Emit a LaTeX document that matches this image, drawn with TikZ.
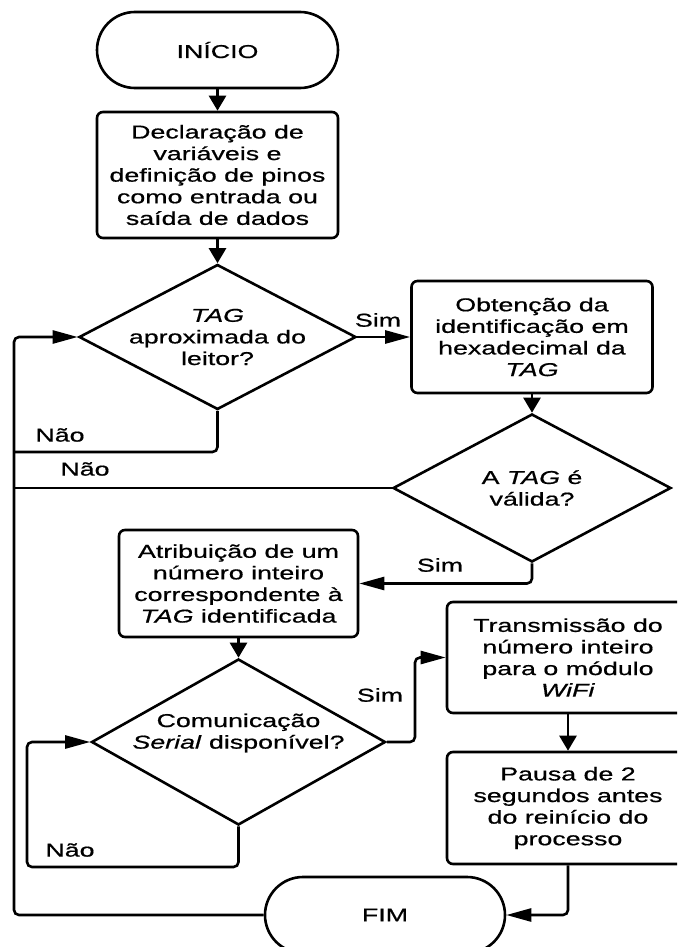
\documentclass[tikz,border=0pt]{standalone}
\usepackage{fontspec}
\setmainfont{Liberation Sans}[FakeStretch=1.44, FakeBold=0.7]
\usetikzlibrary{arrows.meta,shapes.geometric}

\begin{document}
\begin{tikzpicture}[x=1pt, y=-1pt,
  every node/.style={font=\fontsize{18.6}{21.6}\selectfont},
  every label/.style={align=center, inner sep=0pt},
  terminal/.style={draw, line width=2.6pt, rounded corners=38pt,
    minimum width=241pt, minimum height=76pt, inner sep=0pt},
  process/.style={draw, line width=2.6pt, rounded corners=6pt,
    minimum width=241pt, align=center, inner sep=0pt},
  decision/.style={draw, shape=diamond, line width=2.6pt, inner sep=0pt},
  flow/.style={line width=2.6pt, rounded corners=5pt},
  vtip/.style={-{Triangle[length=15pt,width=17pt]}},
  htip/.style={-{Triangle[length=25pt,width=13pt]}},
  answer/.style={inner sep=0pt}
]
\useasboundingbox (0,0) rectangle (677,947);
\clip (0,0) rectangle (677,947);

% Blocks
\node[terminal] (start) at (217.5,50) {INÍCIO};
\node[process, minimum height=126pt] (b1) at (217.5,175)
  {Declaração de\\variáveis e\\definição de pinos\\como entrada ou\\saída de dados};
\node[decision, minimum width=277pt, minimum height=145pt,
  label={center:\textit{TAG}\\aproximada do\\leitor?}] (d1) at (217.5,337) {};
\node[process, minimum height=112pt] (b2) at (532,337)
  {Obtenção da\\identificação em\\hexadecimal da\\\textit{TAG}};
\node[decision, minimum width=278pt, minimum height=148pt,
  label={center:A \textit{TAG} é\\válida?}] (d2) at (532,488) {};
\node[process, minimum width=239pt, minimum height=107pt] (b3) at (238.5,583.5)
  {Atribuição de um\\número inteiro\\correspondente à\\\textit{TAG} identificada};
\node[decision, minimum width=294pt, minimum height=166pt,
  label={[yshift=9pt]center:Comunicação\\\textit{Serial} disponível?}] (d3) at (238.5,742) {};
\node[process, minimum width=242pt, minimum height=111pt] (b4) at (568,657.5)
  {Transmissão do\\número inteiro\\para o módulo\\\textit{WiFi}};
\node[process, minimum width=242pt, minimum height=112pt] (b5) at (568,808)
  {Pausa de 2\\segundos antes\\do reinício do\\processo};
\node[terminal, minimum width=240pt] (fim) at (385,915) {FIM};

% Corner points of the return lines
\coordinate (railtop) at (14,337);
\coordinate (nao1) at (14,452);
\coordinate (nao2) at (14,488);
\coordinate (simbend) at (415,742);
\coordinate (loopc) at (27,867);

% Connectors
\draw[flow, vtip] (start) -- (b1);
\draw[flow, vtip] (b1) -- (d1);
\draw[flow, htip] (d1.east) -- (b2.west);
\draw[flow, vtip] (b2) -- (d2);
\draw[flow] (d1.south) |- (nao1);
\draw[flow] (d2.west) -- (nao2);
\draw[flow, htip] (fim.west) -| (railtop) -- (d1.west);
\draw[flow, htip] (d2.south) |- (b3.east);
\draw[flow, vtip] (b3) -- (d3);
\draw[flow, htip] (d3.east) -- (simbend) |- (b4.west);
\draw[flow, vtip] (b4) -- (b5);
\draw[flow, htip] (b5.south) |- (fim.east);
\draw[flow, htip] (d3.south) |- (loopc) |- (d3.west);

% Branch labels
\node[answer] (lsim1) at (378,320) {Sim};
\node[answer] (lnao1) at (60,435) {Não};
\node[answer] (lnao2) at (85,469) {Não};
\node[answer] (lsim2) at (440,565) {Sim};
\node[answer] (lsim3) at (380,695) {Sim};
\node[answer] (lnao3) at (70,850) {Não};
\end{tikzpicture}
\end{document}
